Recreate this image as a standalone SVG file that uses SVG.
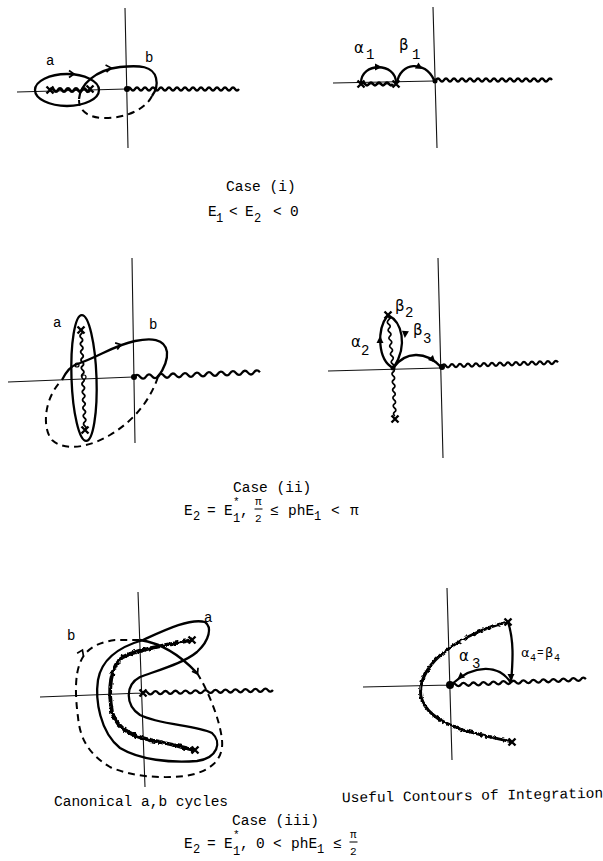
<svg xmlns="http://www.w3.org/2000/svg" xmlns:xlink="http://www.w3.org/1999/xlink" width="603" height="861" viewBox="0 0 603 861">
<style>
.ax{fill:none;stroke:#111;stroke-width:1.1}
.ln{fill:none;stroke:#000;stroke-width:2.3}
.ds{fill:none;stroke:#000;stroke-width:2;stroke-dasharray:7 5}
.wv{fill:none;stroke:#000;stroke-width:2.3;stroke-linejoin:round}
.cut{fill:none;stroke:#000;stroke-width:3;filter:url(#wv)}
.t{font-family:"Liberation Mono",monospace;font-size:14.5px;fill:#000}
.s{font-size:12px}
.g{font-family:"DejaVu Sans",sans-serif;font-size:15px;fill:#000}
.lb{font-family:"Liberation Mono",monospace;font-size:14px;fill:#000}
.xm{fill:none;stroke:#000;stroke-width:2.4}
.ah{fill:#000}
.ao{fill:none;stroke:#000;stroke-width:1.7}
.dot{fill:#000}
.oc{fill:#fff;stroke:#000;stroke-width:1.2}
</style>
<defs>
<filter id="wv" filterUnits="userSpaceOnUse" x="0" y="0" width="603" height="861">
<feTurbulence type="fractalNoise" baseFrequency="0.35" numOctaves="1" seed="2"/>
<feDisplacementMap in="SourceGraphic" scale="4" xChannelSelector="R" yChannelSelector="G"/>
</filter>
<path id="af" d="M-5,-3.5 L2,0 L-5,3.5 Z"/>
<path id="ao" d="M-4,-3.5 L1,0 L-4,3.5"/>
<path id="xx" d="M-3.5,-3.5 L3.5,3.5 M3.5,-3.5 L-3.5,3.5"/>
</defs>
<rect width="603" height="861" fill="#fff"/>

<!-- Panel 1: case (i) canonical cycles -->
<g id="p1">
<path class="ax" d="M125,8 L128,148 M17,92 L126,89"/>
<path class="wv" d="M127,89 q2,-3 4,0 t4,0 t4,0 t4,0 t4,0 t4,0 t4,0 t4,0 t4,0 t4,0 t4,0 t4,0 t4,0 t4,0 t4,0 t4,0 t4,0 t4,0 t4,0 t4,0 t4,0 t4,0 t4,0 t4,0 t4,0 t4,0 t4,0 t4,0"/>
<path class="wv" style="stroke-width:3" d="M50,90 q2,-3 4,0 t4,0 t4,0 t4,0 t4,0 t4,0 t4,0 t4,0 t4,0 t4,0"/>
<use href="#xx" class="xm" transform="translate(50,90)"/>
<use href="#xx" class="xm" transform="translate(90,89)"/>
<circle class="dot" cx="127" cy="89" r="3"/>
<ellipse class="ln" cx="67" cy="90" rx="32" ry="16"/>
<path class="ln" d="M79,99 C80,85 95,70 120,67 C140,65 153,66 156,78 C158,86 155,92 152,96"/>
<path class="ds" d="M152,96 C145,110 125,118 105,118 C90,118 79,112 79,100"/>
<use href="#ao" class="ao" transform="translate(73,74)"/>
<use href="#ao" class="ao" transform="translate(110,68) rotate(-8)"/>
<text class="lb" x="46" y="65">a</text>
<text class="lb" x="145" y="62">b</text>
</g>

<!-- Panel 2: case (i) contours -->
<g id="p2">
<path class="ax" d="M433,7 L437,148 M333,83 L434,81"/>
<path class="wv" d="M436,80 q2,-3 4,0 t4,0 t4,0 t4,0 t4,0 t4,0 t4,0 t4,0 t4,0 t4,0 t4,0 t4,0 t4,0 t4,0 t4,0 t4,0 t4,0 t4,0 t4,0 t4,0 t4,0 t4,0 t4,0 t4,0 t4,0 t4,0 t4,0 t4,0 t4,0"/>
<path class="wv" style="stroke-width:2.8" d="M361,84 q2,-2.5 4,0 t4,0 t4,0 t4,0 t4,0 t4,0 t4,0 t4,0"/>
<use href="#xx" class="xm" transform="translate(361,84)"/>
<use href="#xx" class="xm" transform="translate(396,84)"/>
<circle class="dot" cx="435" cy="81" r="2.5"/>
<path class="ln" d="M361,83 C361,62 396,62 396,83"/>
<path class="ln" d="M397,83 C400,62 425,60 434,80"/>
<use href="#af" class="ah" transform="translate(380,67)"/>
<use href="#af" class="ah" transform="translate(421,68) rotate(30)"/>
<text class="g" x="354" y="53">α</text><text class="lb s" x="366" y="59">1</text>
<text class="g" x="399" y="50">β</text><text class="lb s" x="412" y="59">1</text>
</g>

<!-- Case (i) caption -->
<g id="cap1">
<text class="t" x="226" y="191">Case (i)</text>
<text class="t" x="208" y="216">E<tspan class="s" x="216" y="222">1</tspan><tspan x="229" y="216">&lt;</tspan><tspan x="245" y="216">E</tspan><tspan class="s" x="254" y="222">2</tspan><tspan x="273" y="216">&lt;</tspan><tspan x="290" y="216">0</tspan></text>
</g>

<!-- Panel 3: case (ii) canonical cycles -->
<g id="p3">
<path class="ax" d="M132,258 L135,443 M8,382 L133,377"/>
<path class="wv" d="M134,377 q3,-4 6,0 t6,0 t6,0 t6,0 t6,0 t6,0 t6,0 t6,0 t6,0 t6,0 t6,0 t6,0 t6,0 t6,0 t6,0 t6,0 t6,0 t6,0 t6,0 t6,0 t6,0" transform="rotate(-2.2 134 377)"/>
<ellipse class="ln" cx="84" cy="378" rx="12.5" ry="63" transform="rotate(-2 84 378)"/>
<path class="wv" style="stroke-width:1.8" d="M81,330 q2.5,2 0,4 t0,4 t0,4 t0,4 t0,4 t0,4 t0,4 t0,4 t0,4 t0,4 t0,4 t0,4 t0,4 t0,4 t0,4 t0,4 t0,4 t0,4 t0,4 t0,4 t0,4 t0,4 t0,4 t0,4 t0,4" transform="rotate(-2.3 81 330)"/>
<use href="#xx" class="xm" transform="translate(81,330)"/>
<use href="#xx" class="xm" transform="translate(85,430)"/>
<circle class="oc" cx="77" cy="365" r="2"/>
<circle class="oc" cx="84" cy="377" r="2"/>
<circle class="dot" cx="134" cy="377" r="3"/>
<path class="ln" d="M62,380 C66,372 70,366 80,363 C100,356 115,345 135,341 C150,338 165,338 167,352 C168,362 163,370 158,377"/>
<path class="ds" d="M158,377 C150,400 135,420 110,435 C90,447 65,452 52,440 C42,428 44,400 60,382"/>
<use href="#ao" class="ao" transform="translate(120,345) rotate(-18)"/>
<text class="lb" x="53" y="327">a</text>
<text class="lb" x="149" y="329">b</text>
</g>

<!-- Panel 4: case (ii) contours -->
<g id="p4">
<path class="ax" d="M438,258 L443,458 M328,371 L440,368"/>
<path class="wv" d="M442,366 q2,-3 4,0 t4,0 t4,0 t4,0 t4,0 t4,0 t4,0 t4,0 t4,0 t4,0 t4,0 t4,0 t4,0 t4,0 t4,0 t4,0 t4,0 t4,0 t4,0 t4,0 t4,0 t4,0 t4,0 t4,0 t4,0 t4,0 t4,0 t4,0 t4,0" transform="rotate(-1.8 442 366)"/>
<path class="wv" style="stroke-width:1.7" d="M393,368 q2.5,-2 0,-4 t0,-4 t0,-4 t0,-4 t0,-4 t0,-4 t0,-4 t0,-4 t0,-4 t0,-4 t0,-4 t0,-4 t0,-4" transform="rotate(-5.5 393 368)"/>
<path class="wv" style="stroke-width:1.7" d="M393,368 q2.5,2 0,4 t0,4 t0,4 t0,4 t0,4 t0,4 t0,4 t0,4 t0,4 t0,4 t0,4 t0,4" transform="rotate(-2.2 393 368)"/>
<use href="#xx" class="xm" transform="translate(388,315)"/>
<use href="#xx" class="xm" transform="translate(395,419)"/>
<circle class="dot" cx="393" cy="368" r="2.5"/>
<circle class="dot" cx="442" cy="367" r="3"/>
<path class="ln" d="M393,368 C378,360 376,330 388,315"/>
<path class="ln" d="M388,315 C402,322 408,345 394,367"/>
<path class="ln" d="M394,367 C405,352 425,350 441,367"/>
<use href="#af" class="ah" transform="translate(380,338) rotate(-90)"/>
<use href="#af" class="ah" transform="translate(405,336) rotate(95)"/>
<use href="#af" class="ah" transform="translate(434,361) rotate(45)"/>
<text class="g" x="351" y="347">α</text><text class="lb s" x="361" y="355">2</text>
<text class="g" x="395" y="311">β</text><text class="lb s" x="405" y="317">2</text>
<text class="g" x="413" y="335">β</text><text class="lb s" x="423" y="343">3</text>
</g>

<!-- Case (ii) caption -->
<g id="cap2">
<text class="t" x="233" y="492">Case (ii)</text>
<text class="t" x="184" y="515">E<tspan class="s" x="193" y="520">2</tspan><tspan x="207" y="515">=</tspan><tspan x="224" y="515">E</tspan><tspan class="s" style="font-size:11px" x="233" y="505">*</tspan><tspan class="s" x="233" y="522">1</tspan><tspan x="240" y="515">,</tspan><tspan class="s" style="font-size:11px" x="255" y="505">π</tspan><tspan class="s" style="font-size:11px" x="255" y="522">2</tspan><tspan x="270" y="515">≤</tspan><tspan x="288" y="515">phE</tspan><tspan class="s" x="314" y="520">1</tspan><tspan x="331" y="515">&lt;</tspan><tspan x="350" y="515">π</tspan></text>
<path class="ax" d="M254.5,509 L262.5,509"/>
</g>

<!-- Panel 5: case (iii) canonical cycles -->
<g id="p5">
<path class="ax" d="M138,592 L145,787 M40,697 L142,693"/>
<path class="wv" d="M143,693 q2.5,-3 5,0 t5,0 t5,0 t5,0 t5,0 t5,0 t5,0 t5,0 t5,0 t5,0 t5,0 t5,0 t5,0 t5,0 t5,0 t5,0 t5,0 t5,0 t5,0 t5,0 t5,0 t5,0 t5,0 t5,0 t5,0 t5,0" transform="rotate(-1.3 143 693)"/>
<path class="cut" style="stroke-width:3.8" d="M192,640 C170,645 140,648 123,657 C110,665 108,690 112,712 C117,730 135,738 160,742 C175,745 185,748 195,750"/>
<use href="#xx" class="xm" transform="translate(192,640)"/>
<use href="#xx" class="xm" transform="translate(195,750)"/>
<use href="#xx" class="xm" transform="translate(143,693)"/>
<path class="ln" d="M143,640 C165,630 190,618 205,622 C212,627 210,640 197,652 C185,662 165,668 140,677 C125,685 125,705 140,715 C160,725 195,725 212,733 C222,742 218,758 197,761 C170,763 140,760 120,748 C100,732 95,700 98,680 C101,662 115,648 143,640 Z"/>
<path class="ln" d="M140,640 C160,643 180,655 197,673"/>
<path class="ds" d="M197,673 C208,690 220,720 222,740 C224,760 210,772 185,776 C160,779 130,776 110,767 C90,755 80,740 78,717 C75,695 75,675 80,663 C85,650 95,643 115,640 L140,640"/>
<use href="#ao" class="ao" transform="translate(197,673) rotate(60)"/>
<use href="#ao" class="ao" transform="translate(82,651) rotate(-65)"/>
<text class="lb" x="204" y="622">a</text>
<text class="lb" x="67" y="640">b</text>
</g>

<!-- Panel 6: case (iii) contours -->
<g id="p6">
<path class="ax" d="M447,588 L452,760 M363,687 L450,685"/>
<path class="wv" d="M451,685 q2.5,-3 5,0 t5,0 t5,0 t5,0 t5,0 t5,0 t5,0 t5,0 t5,0 t5,0 t5,0 t5,0 t5,0 t5,0 t5,0 t5,0 t5,0 t5,0 t5,0 t5,0 t5,0 t5,0 t5,0 t5,0 t5,0 t5,0 t5,0" transform="rotate(-2.5 451 685)"/>
<path class="cut" style="stroke-width:3" d="M508,622 C490,626 465,636 447,650 C430,662 418,680 421,697 C425,712 440,722 460,729 C480,735 495,738 512,742"/>
<use href="#xx" class="xm" transform="translate(508,622)"/>
<use href="#xx" class="xm" transform="translate(512,742)"/>
<circle class="dot" cx="450" cy="685" r="4"/>
<path class="ln" d="M508,622 C514,640 513,660 511,683"/>
<path class="ln" d="M511,683 C500,665 475,663 452,684"/>
<use href="#af" class="ah" transform="translate(511,679) rotate(90)"/>
<use href="#af" class="ah" transform="translate(459,678) rotate(140)"/>
<text class="g" x="459" y="661">α</text><text class="lb s" x="472" y="668">3</text>
<text class="g" style="font-size:13px" x="521" y="657">α</text><text class="lb" style="font-size:10px" x="530" y="661">4</text><text class="lb" style="font-size:11px" x="537" y="656">=</text><text class="g" style="font-size:13px" x="545" y="657">β</text><text class="lb" style="font-size:10px" x="554" y="661">4</text>
</g>

<!-- Bottom captions -->
<g id="cap3">
<text class="t" x="54" y="806">Canonical a,b cycles</text>
<text class="t" x="342" y="800" transform="rotate(-1 472 796)">Useful Contours of Integration</text>
<text class="t" x="232" y="825">Case (iii)</text>
<text class="t" x="184" y="848">E<tspan class="s" x="193" y="853">2</tspan><tspan x="207" y="848">=</tspan><tspan x="224" y="848">E</tspan><tspan class="s" style="font-size:11px" x="233" y="838">*</tspan><tspan class="s" x="233" y="855">1</tspan><tspan x="240" y="848">,</tspan><tspan x="256" y="848">0</tspan><tspan x="273" y="848">&lt;</tspan><tspan x="291" y="848">phE</tspan><tspan class="s" x="317" y="853">1</tspan><tspan x="333" y="848">≤</tspan><tspan class="s" style="font-size:11px" x="350" y="838">π</tspan><tspan class="s" style="font-size:11px" x="350" y="855">2</tspan></text>
<path class="ax" d="M349.5,842 L357.5,842"/>
</g>
</svg>
